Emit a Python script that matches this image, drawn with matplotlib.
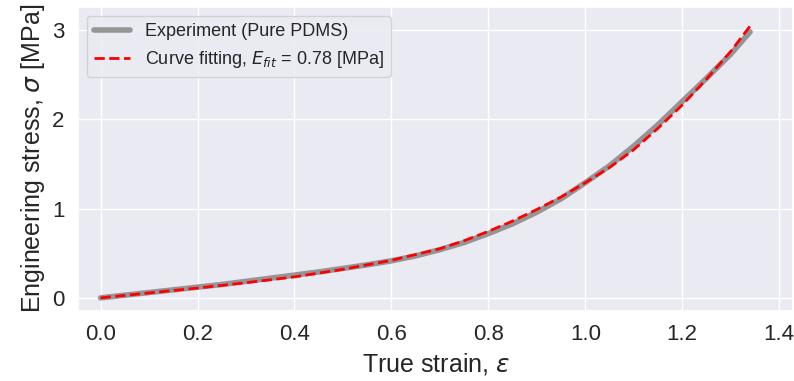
import matplotlib
matplotlib.use("Agg")
import matplotlib.pyplot as plt
import seaborn as sns

# experiment (pure PDMS), true strain vs engineering stress [MPa]
exp_strain = [0.00, 0.05, 0.10, 0.15, 0.20, 0.25, 0.30, 0.35, 0.40, 0.45,
              0.50, 0.55, 0.60, 0.65, 0.70, 0.75, 0.80, 0.85, 0.90, 0.95,
              1.00, 1.05, 1.10, 1.15, 1.20, 1.25, 1.30, 1.34]
exp_stress = [0.00, 0.03, 0.06, 0.09, 0.12, 0.15, 0.185, 0.22, 0.255, 0.29,
              0.33, 0.37, 0.415, 0.47, 0.54, 0.62, 0.72, 0.83, 0.96, 1.11,
              1.29, 1.48, 1.70, 1.94, 2.20, 2.46, 2.73, 2.98]

# curve fitting
fit_strain = [0.00, 0.10, 0.20, 0.30, 0.40, 0.50, 0.60, 0.70, 0.75, 0.80,
              0.85, 0.90, 0.95, 1.00, 1.05, 1.10, 1.15, 1.20, 1.25, 1.30, 1.345]
fit_stress = [0.00, 0.055, 0.11, 0.17, 0.235, 0.32, 0.42, 0.55, 0.64, 0.745,
              0.86, 0.99, 1.13, 1.29, 1.46, 1.66, 1.90, 2.16, 2.45, 2.76, 3.08]

E_fit = 0.78

sns.set_theme(style="darkgrid", font_scale=1.5)
plt.rcParams["font.family"] = ["Liberation Sans", "DejaVu Sans"]

fig, ax = plt.subplots(figsize=(7.94, 3.81), dpi=100)
ax.plot(exp_strain, exp_stress, color="gray", alpha=0.8, lw=4,
        label="Experiment (Pure PDMS)")
ax.plot(fit_strain, fit_stress, "--", color="red", lw=2,
        label="Curve fitting, $E_{fit}$ = %.2f [MPa]" % E_fit)

ax.set_xlabel(r"True strain, $\varepsilon$", fontsize=18)
ax.set_ylabel(r"Engineering stress, $\sigma$ [MPa]", fontsize=18)
ax.set_xticks([0.0, 0.2, 0.4, 0.6, 0.8, 1.0, 1.2, 1.4])
ax.set_yticks([0, 1, 2, 3])
ax.set_xlim(-0.047, 1.429)
ax.set_ylim(-0.146, 3.26)
ax.tick_params(labelsize=16)
ax.legend(loc="upper left", fontsize=13)

fig.subplots_adjust(left=0.098, right=0.999, top=0.982, bottom=0.184)
fig.savefig("out.png", dpi=100)
